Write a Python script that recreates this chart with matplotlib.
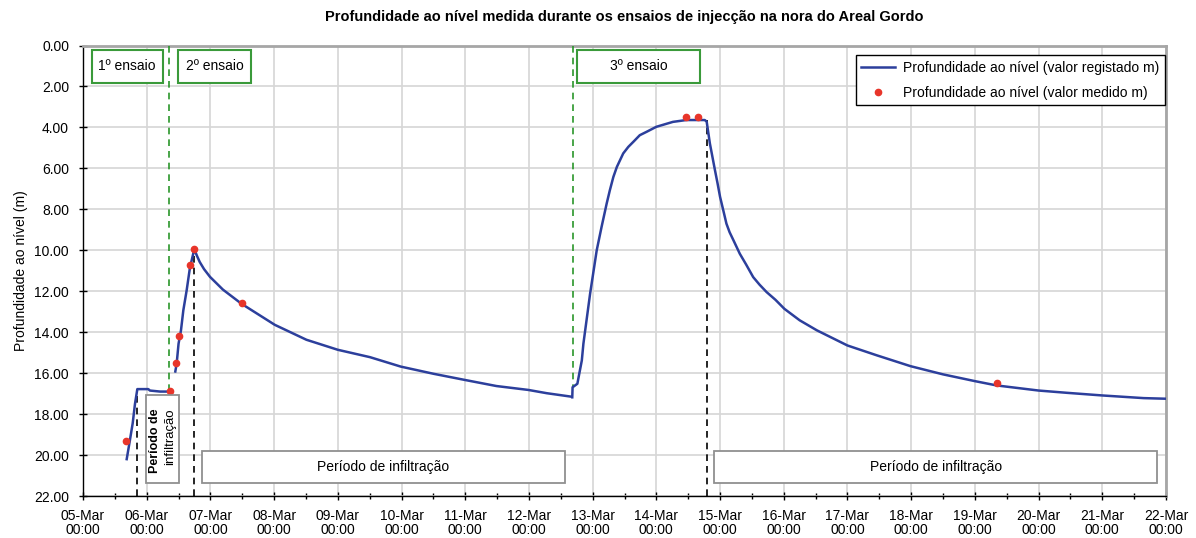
import numpy as np
import pandas as pd
import matplotlib
matplotlib.use('Agg')
import matplotlib.pyplot as plt
import matplotlib.dates as mdates
from matplotlib.patches import Rectangle
from matplotlib.ticker import FormatStrFormatter

plt.rcParams['font.family'] = ['Liberation Sans', 'DejaVu Sans']

# time in days after 05-Mar 00:00, depth in m
reg1_t = [0.686, 0.727, 0.78, 0.816, 0.853, 1.025, 1.05, 1.21, 1.366]
reg1_d = [20.2, 19.45, 18.45, 17.5, 16.78, 16.78, 16.85, 16.9, 16.9]

reg2_t = [1.449, 1.47, 1.50, 1.538, 1.575, 1.627, 1.68, 1.706, 1.747, 1.79, 1.832, 1.9, 1.994,
          2.196, 2.487, 3.01, 3.507, 4.0, 4.505, 4.987, 5.5, 5.99, 6.49, 6.99, 7.28, 7.667]
reg2_d = [15.92, 15.54, 14.56, 13.91, 12.93, 11.96, 10.82, 10.49, 9.95, 10.28, 10.57, 10.92, 11.3,
          11.92, 12.61, 13.64, 14.37, 14.86, 15.22, 15.68, 16.03, 16.33, 16.63, 16.82, 16.98, 17.15]

reg3_t = [7.68, 7.685, 7.76, 7.79, 7.83, 7.855, 7.96, 8.064, 8.14, 8.22, 8.27, 8.325, 8.38, 8.43,
          8.48, 8.56, 8.64, 8.74, 8.85, 9.0, 9.26, 9.47, 9.76, 9.79, 9.84, 9.92, 9.96, 10.0,
          10.05, 10.1, 10.15, 10.21, 10.31, 10.41, 10.52, 10.62, 10.73, 10.87, 11.01, 11.25,
          11.52, 12.0, 12.46, 12.99, 13.5, 14.0, 14.34, 15.0, 15.44, 16.0, 16.65, 17.0]
reg3_d = [17.18, 16.69, 16.52, 16.03, 15.38, 14.56, 12.12, 10.0, 8.86, 7.72, 7.07, 6.42, 5.93, 5.6,
          5.27, 4.95, 4.70, 4.38, 4.21, 3.97, 3.73, 3.64, 3.64, 3.72, 4.78, 6.09, 6.72, 7.39,
          8.04, 8.70, 9.12, 9.51, 10.17, 10.7, 11.31, 11.68, 12.04, 12.42, 12.86, 13.42,
          13.91, 14.65, 15.13, 15.66, 16.06, 16.39, 16.6, 16.85, 16.96, 17.09, 17.22, 17.25]

med_t = [0.68, 1.366, 1.455, 1.512, 1.685, 1.747, 2.496, 9.46, 9.65, 14.35]
med_d = [19.29, 16.86, 15.49, 14.2, 10.7, 9.94, 12.58, 3.48, 3.48, 16.5]

# end of injection (black) and start of test (green)
fim_t = [0.853, 1.747, 9.79]
fim_d = [16.78, 9.95, 3.64]
ini_t = [1.355, 7.687]
ini_d = [16.8, 16.69]

ensaios = ['1º ensaio', '2º ensaio', '3º ensaio']
ensaio_x = [(0.136, 1.251), (1.497, 2.633), (7.76, 9.686)]
infil_x = [(1.863, 7.57), (9.906, 16.86)]

start = pd.Timestamp('2008-03-05')


def dt(days):
    return mdates.date2num(start + pd.to_timedelta(np.asarray(days, dtype=float), unit='D'))


fig = plt.figure(figsize=(11.96, 5.38), dpi=100)
ax = fig.add_axes([83 / 1196, 1 - 496 / 538, (1166 - 83) / 1196, (496 - 45.5) / 538])

blue = '#2c3f9c'
red = '#e8352a'
ax.plot(dt(reg1_t), reg1_d, color=blue, lw=1.8, zorder=4,
        label='Profundidade ao nível (valor registado m)')
ax.plot(dt(reg2_t), reg2_d, color=blue, lw=1.8, zorder=4)
ax.plot(dt(reg3_t), reg3_d, color=blue, lw=1.8, zorder=4)
ax.plot(dt(med_t), med_d, 'o', color=red, ms=4.5, zorder=5,
        label='Profundidade ao nível (valor medido m)')

for t, d in zip(fim_t, fim_d):
    ax.plot(dt([t, t]), [22, d], color='black', lw=1.2, ls=(0, (4, 3)), zorder=3)
for t, d in zip(ini_t, ini_d):
    ax.plot(dt([t, t]), [0, d], color='#2a962a', lw=1.2, ls=(0, (4, 3)), zorder=3)

# test boxes
for name, (a, b) in zip(ensaios, ensaio_x):
    ax.add_patch(Rectangle((dt(a), 0.22), dt(b) - dt(a), 1.6, facecolor='white',
                           edgecolor='#3a9a3a', lw=1.5, zorder=6))
    ax.text((dt(a) + dt(b)) / 2, 1.02, name, ha='center', va='center', fontsize=10, zorder=7)

# infiltration boxes
for a, b in infil_x:
    ax.add_patch(Rectangle((dt(a), 19.8), dt(b) - dt(a), 1.58, facecolor='white',
                           edgecolor='#909090', lw=1.3, zorder=6))
    ax.text((dt(a) + dt(b)) / 2, 20.6, 'Período de infiltração', ha='center', va='center',
            fontsize=10, zorder=7)
ax.add_patch(Rectangle((dt(0.984), 17.09), dt(1.507) - dt(0.984), 4.29, facecolor='white',
                       edgecolor='#909090', lw=1.3, zorder=6))
ax.text(dt(1.13), 19.3, 'Período de', rotation=90, ha='center', va='center',
        fontsize=9, fontweight='bold', zorder=7)
ax.text(dt(1.37), 19.1, 'infiltração', rotation=90, ha='center', va='center',
        fontsize=9.5, zorder=7)

ax.set_ylim(22, 0)
ax.set_yticks(np.arange(0, 23, 2))
ax.yaxis.set_major_formatter(FormatStrFormatter('%.2f'))
ax.set_xlim(dt(0), dt(17))
days = np.arange(0, 18)
ax.set_xticks(dt(days))
ax.set_xticklabels([(start + pd.Timedelta(days=int(d))).strftime('%d-%b\n%H:%M') for d in days],
                   linespacing=0.95)
ax.set_xticks(dt(days[:-1] + 0.5), minor=True)
ax.grid(True, which='major', color='#d6d6d6', lw=1.2, zorder=0)
ax.set_axisbelow(True)
ax.tick_params(axis='both', which='major', direction='inout', length=6, labelsize=10, width=1)
ax.tick_params(axis='x', which='minor', direction='inout', length=5, width=1)
ax.tick_params(axis='x', which='major', pad=6.5)
ax.tick_params(axis='y', which='major', pad=7)

for s in ['top', 'right']:
    ax.spines[s].set_color('#a6a6a6')
    ax.spines[s].set_linewidth(2)
for s in ['left', 'bottom']:
    ax.spines[s].set_color('black')
    ax.spines[s].set_linewidth(1)

ax.set_ylabel('Profundidade ao nível (m)', fontsize=10, labelpad=4.5)
ax.set_title('Profundidade ao nível medida durante os ensaios de injecção na nora do Areal Gordo',
             fontsize=10.5, fontweight='bold', pad=18)

leg = ax.legend(loc='upper right', bbox_to_anchor=(0.999, 0.979), borderaxespad=0,
                fancybox=False, framealpha=1, edgecolor='black', fontsize=10,
                handlelength=2.4, handletextpad=0.6, labelspacing=0.8)
leg.get_frame().set_linewidth(1)
leg.set_zorder(8)

fig.savefig('out.png', dpi=100)
